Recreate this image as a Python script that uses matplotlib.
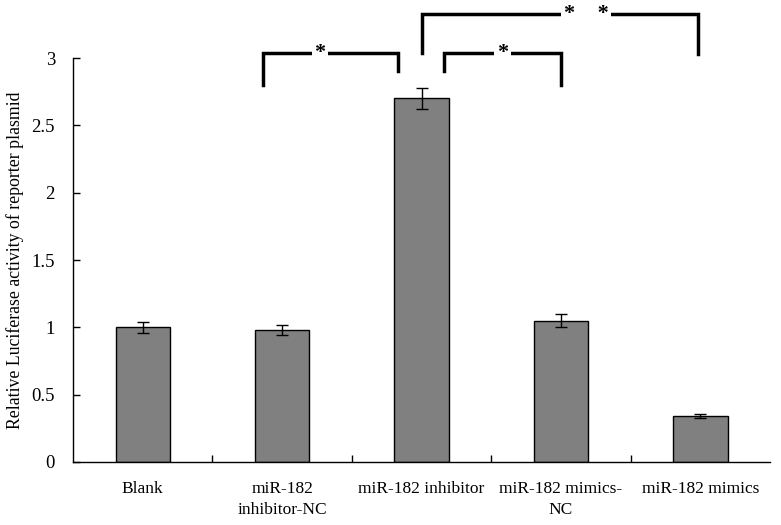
import matplotlib.pyplot as plt
import numpy as np

plt.rcParams['font.family'] = ['Liberation Serif', 'DejaVu Serif']

categories = ['Blank', 'miR-182\ninhibitor-NC', 'miR-182 inhibitor',
              'miR-182 mimics-\nNC', 'miR-182 mimics']
values = [1.00, 0.98, 2.70, 1.05, 0.34]
errors = [0.04, 0.04, 0.08, 0.05, 0.015]

# significance brackets: (x_left, x_right, y_left_bottom, y_right_bottom, y_top, label_x, label)
brackets = [
    (0.86, 1.83, 2.80, 2.90, 3.04, 1.27, '*'),
    (2.16, 3.00, 2.90, 2.80, 3.04, 2.58, '*'),
    (2.00, 3.98, 3.04, 3.03, 3.33, 3.18, '*    *'),
]

fig = plt.figure(figsize=(7.81, 5.25), dpi=100)
ax = fig.add_axes([0.0935, 0.12, 0.8925, 0.7695])

x = np.arange(len(categories))
ax.bar(x, values, width=0.39, color='#808080', edgecolor='black', linewidth=1.0)
ax.errorbar(x, values, yerr=errors, fmt='none', ecolor='black',
            elinewidth=1.0, capsize=4, capthick=1.0)

ax.set_xlim(-0.5, len(categories) - 0.5)
ax.set_ylim(0, 3)
ax.set_yticks(np.arange(0, 3.01, 0.5))
ax.set_yticklabels(['0', '0.5', '1', '1.5', '2', '2.5', '3'])
ax.set_xticks(x)
ax.set_xticklabels(categories, fontsize=12.5, linespacing=1.35)
ax.tick_params(axis='x', length=0, pad=14)
ax.set_xticks(np.arange(0.5, len(categories) - 0.5, 1), minor=True)
ax.tick_params(axis='x', which='minor', direction='in', length=5, width=1)
ax.tick_params(axis='y', direction='in', length=5, width=1, labelsize=13.5, pad=13)

for s in ['top', 'right']:
    ax.spines[s].set_visible(False)
for s in ['left', 'bottom']:
    ax.spines[s].set_linewidth(1.0)

ax.set_ylabel('Relative Luciferase activity of reporter plasmid', fontsize=12.8)
ax.yaxis.set_label_coords(-0.070, 0.5)

for xl, xr, yl, yr, yt, lx, lab in brackets:
    ax.plot([xl, xl, xr, xr], [yl, yt, yt, yr], color='black', lw=2.5,
            clip_on=False, solid_joinstyle='miter')
    ax.text(lx, yt, lab, ha='center', va='center', fontsize=16,
            fontweight='bold', clip_on=False,
            bbox=dict(facecolor='white', edgecolor='none', pad=2))

fig.savefig('out.png', dpi=100)
